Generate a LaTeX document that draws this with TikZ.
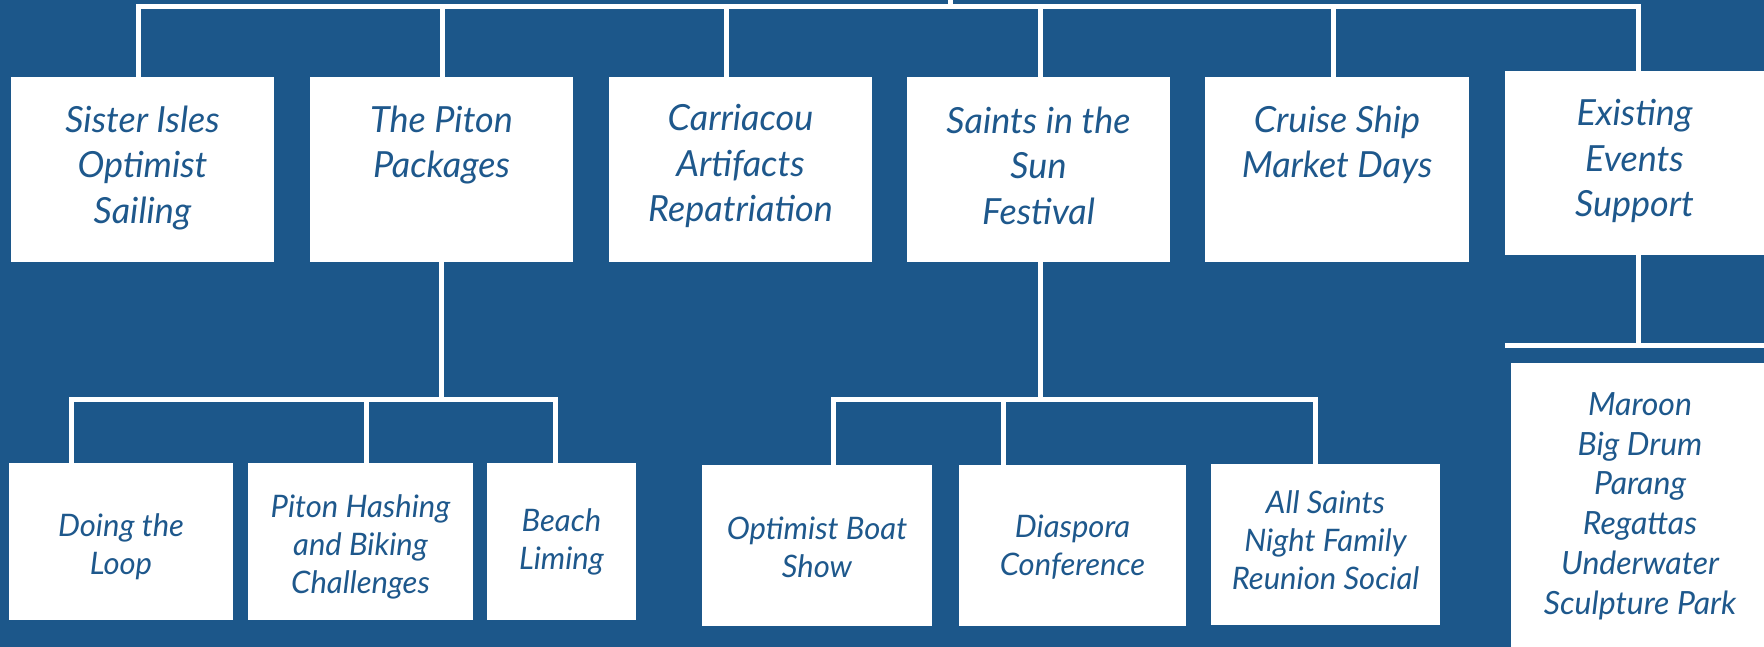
\documentclass[tikz,border=0pt]{standalone}
\usepackage{fontspec}
\setmainfont{Lato}
\definecolor{bgblue}{RGB}{28,87,138}
\definecolor{txtblue}{RGB}{30,88,140}
\tikzset{
  box/.style={rectangle, fill=white, inner sep=0pt, anchor=north west},
  conn/.style={white, line width=5pt},
  bar/.style={conn, line cap=rect},
  toptxt/.style={text=txtblue, align=center, inner sep=0pt, font=\itshape\fontsize{36}{45.5}\selectfont},
  bottxt/.style={text=txtblue, align=center, inner sep=0pt, font=\itshape\fontsize{31}{38}\selectfont},
  listtxt/.style={text=txtblue, align=center, inner sep=0pt, font=\itshape\fontsize{32}{39.8}\selectfont}
}
\begin{document}
\begin{tikzpicture}[x=1pt,y=-1pt]
\clip (0,0) rectangle (1764,647);
\fill[bgblue] (0,0) rectangle (1764,647);
% top row boxes
\node[box, minimum width=263pt, minimum height=185pt] (b1) at (11,77) {};
\node[box, minimum width=263pt, minimum height=185pt] (b2) at (310,77) {};
\node[box, minimum width=263pt, minimum height=185pt] (b3) at (609,77) {};
\node[box, minimum width=263pt, minimum height=185pt] (b4) at (907,77) {};
\node[box, minimum width=264pt, minimum height=185pt] (b5) at (1205,77) {};
\node[box, minimum width=265pt, minimum height=184pt] (b6) at (1505,71) {};
\node[box, minimum width=260pt, minimum height=290pt] (b7) at (1511,363) {};
% bottom boxes
\node[box, minimum width=224pt, minimum height=157pt] (d1) at (9,463) {};
\node[box, minimum width=225pt, minimum height=157pt] (d2) at (248,463) {};
\node[box, minimum width=149pt, minimum height=157pt] (d3) at (487,463) {};
\node[box, minimum width=230pt, minimum height=161pt] (e1) at (702,465) {};
\node[box, minimum width=227pt, minimum height=161pt] (e2) at (959,465) {};
\node[box, minimum width=229pt, minimum height=161pt] (e3) at (1211,464) {};
% texts
\node[toptxt] (t1) at (142.5,168) {Sister Isles\\Optimist\\Sailing};
\node[toptxt] (t2) at (441.5,145.25) {The Piton\\Packages};
\node[toptxt] (t3) at (740.5,166) {Carriacou\\Artifacts\\Repatriation};
\node[toptxt] (t4) at (1038.5,165.5) {Saints in the\\Sun\\Festival};
\node[toptxt] (t5) at (1337,145) {Cruise Ship\\Market Days};
\node[toptxt] (t6) at (1634.5,161) {Existing\\Events\\Support};
\node[bottxt] (u1) at (121,546.5) {Doing the\\Loop};
\node[bottxt] (u2) at (360.5,547) {Piton Hashing\\and Biking\\Challenges};
\node[bottxt] (u3) at (561.5,542) {Beach\\Liming};
\node[bottxt] (v1) at (817,547) {Optimist Boat\\Show};
\node[bottxt] (v2) at (1072.5,547) {Diaspora\\Conference};
\node[bottxt] (v3) at (1325.5,540) {All Saints\\Night Family\\Reunion Social};
\node[listtxt] (w) at (1640,506) {Maroon\\Big Drum\\Parang\\Regattas\\Underwater\\Sculpture Park};
% top bar
\coordinate (c1) at (138,6.5);
\coordinate (c2) at (442,6.5);
\coordinate (c3) at (726,6.5);
\coordinate (c4) at (1040,6.5);
\coordinate (c5) at (1333.5,6.5);
\coordinate (c6) at (1638,6.5);
\coordinate (cup) at (950,6.5);
\coordinate (cupend) at (950,-5);
\draw[bar] (c1) -- (c6);
\draw[conn] (cup) -- (cupend);
\draw[conn] (c1) -- (c1 |- b1.north);
\draw[conn] (c2) -- (c2 |- b2.north);
\draw[conn] (c3) -- (c3 |- b3.north);
\draw[conn] (c4) -- (c4 |- b4.north);
\draw[conn] (c5) -- (c5 |- b5.north);
\draw[conn] (c6) -- (c6 |- b6.north);
% piton branch
\coordinate (p0) at (441.5,399);
\coordinate (p1) at (71,399);
\coordinate (p2) at (366,399);
\coordinate (p3) at (555,399);
\draw[conn] (p0 |- b2.south) -- (p0);
\draw[bar] (p1) -- (p3);
\draw[conn] (p1) -- (p1 |- d1.north);
\draw[conn] (p2) -- (p2 |- d2.north);
\draw[conn] (p3) -- (p3 |- d3.north);
% saints branch
\coordinate (s0) at (1040,399);
\coordinate (s1) at (833,399);
\coordinate (s2) at (1003,399);
\coordinate (s3) at (1315,399);
\draw[conn] (s0 |- b4.south) -- (s0);
\draw[bar] (s1) -- (s3);
\draw[conn] (s1) -- (s1 |- e1.north);
\draw[conn] (s2) -- (s2 |- e2.north);
\draw[conn] (s3) -- (s3 |- e3.north);
% existing branch
\coordinate (x0) at (1638,345);
\coordinate (x1) at (1507.5,345);
\coordinate (x2) at (1775,345);
\draw[conn] (x0 |- b6.south) -- (x0);
\draw[bar] (x1) -- (x2);
\end{tikzpicture}
\end{document}
